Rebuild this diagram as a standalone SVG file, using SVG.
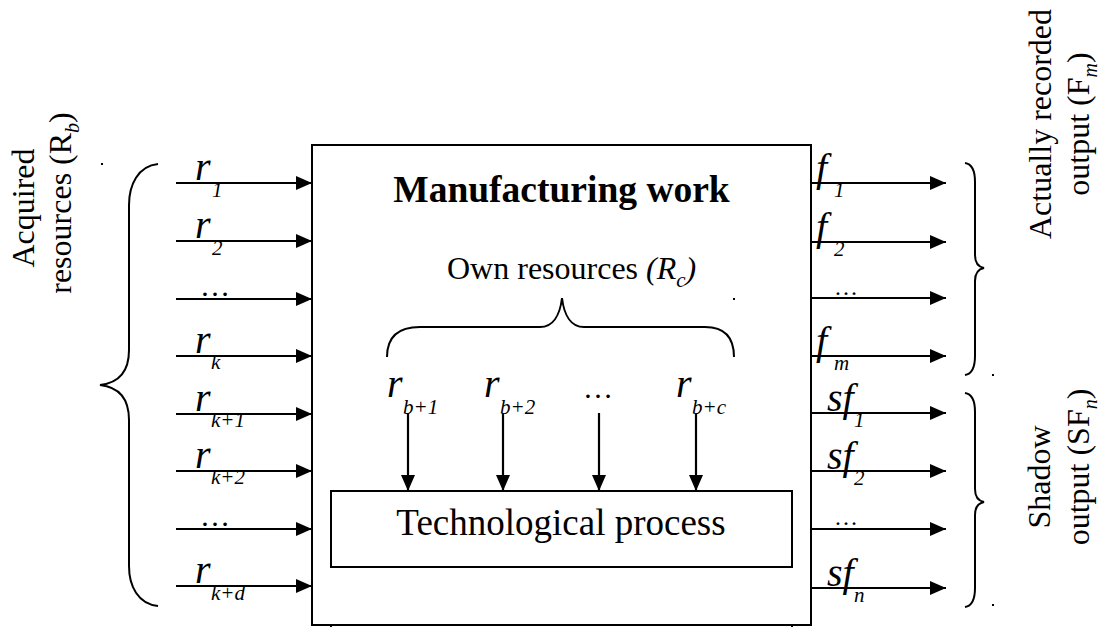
<svg xmlns="http://www.w3.org/2000/svg" width="1107" height="627" viewBox="0 0 1107 627">
<style>
text{font-family:"Liberation Serif","Times New Roman",serif;fill:#000}
.it{font-style:italic}
.v{font-size:40px;font-style:italic}
.s{font-size:21px;font-style:italic}
.lbl{font-size:32px}
.ln{stroke:#000;stroke-width:2;fill:none}
.br{stroke:#000;stroke-width:2;fill:none}
.ar{stroke:#000;stroke-width:2.2;fill:none;marker-end:url(#ah)}
</style>
<defs>
<marker id="ah" markerUnits="userSpaceOnUse" markerWidth="18" markerHeight="16" refX="16" refY="7" orient="auto">
<path d="M0,0 L16,7 L0,14 Z" fill="#000"/>
</marker>
</defs>
<rect width="1107" height="627" fill="#fff"/>

<g id="manufacturing-work">
<rect x="312" y="145" width="499" height="480" class="ln"/>
<line x1="331" y1="625" x2="331" y2="627" class="ln"/>
<line x1="792" y1="625" x2="792" y2="627" class="ln"/>
<text x="561.5" y="202" font-size="37.5" font-weight="bold" text-anchor="middle">Manufacturing work</text>
</g>

<g id="technological-process">
<rect x="331" y="491" width="461" height="76" class="ln"/>
<text x="561" y="535" font-size="37" text-anchor="middle">Technological process</text>
</g>

<g id="own-resources">
<text x="447" y="279" font-size="32">Own resources <tspan class="it">(R</tspan><tspan class="s" dy="8" font-size="20">c</tspan><tspan class="it" dy="-8">)</tspan></text>
<path class="br" d="M387,357 C387,340 395,327 420,327 L540,327 C553,327 560,315 562,298 C564,315 571,327 584,327 L705,327 C727,327 734,340 734,357"/>
<rect x="733" y="298" width="2" height="2" fill="#000"/>
<text x="387" y="397" class="v">r</text><text x="403" y="414" class="s">b+1</text>
<text x="484" y="397" class="v">r</text><text x="500" y="414" class="s">b+2</text>
<text x="583" y="398" font-size="30">…</text>
<text x="676" y="397" class="v">r</text><text x="692" y="414" class="s">b+c</text>
</g>

<g id="acquired-resources">
<text class="lbl" transform="translate(34,208) rotate(-90)" text-anchor="middle">Acquired</text>
<text class="lbl" transform="translate(71,203) rotate(-90)" text-anchor="middle">resources (R<tspan class="it" font-size="20" dy="8">b</tspan><tspan dy="-8">)</tspan></text>
<path class="br" d="M158,164 C138,166 129,185 129,205 L129,350 C129,372 118,383 100,385 C118,387 129,398 129,420 L129,566 C129,586 138,604 158,606"/>
<rect x="101" y="163" width="2" height="2" fill="#000"/>
<text x="195" y="180" class="v">r</text><text x="212" y="197" class="s">1</text>
<text x="195" y="238" class="v">r</text><text x="212" y="255" class="s">2</text>
<text x="200" y="296" font-size="30">…</text>
<text x="195" y="353" class="v">r</text><text x="211" y="369" class="s">k</text>
<text x="195" y="411" class="v">r</text><text x="211" y="427" class="s">k+1</text>
<text x="195" y="468" class="v">r</text><text x="211" y="484" class="s">k+2</text>
<text x="200" y="526" font-size="30">…</text>
<text x="195" y="583" class="v">r</text><text x="211" y="600" class="s">k+d</text>
</g>

<g id="recorded-output">
<text class="lbl" transform="translate(1051,124) rotate(-90)" text-anchor="middle">Actually recorded</text>
<text class="lbl" transform="translate(1089,124) rotate(-90)" text-anchor="middle">output (F<tspan class="it" font-size="20" dy="8">m</tspan><tspan dy="-8">)</tspan></text>
<path class="br" d="M965,163 C972,164 975,172 975,182 L975,255 C975,263 979,267 984,268 C979,269 975,273 975,281 L975,356 C975,366 972,374 965,375"/>
<rect x="992" y="374" width="2" height="2" fill="#000"/>
<text x="816" y="181" class="v">f</text><text x="834" y="197" class="s">1</text>
<text x="816" y="240" class="v">f</text><text x="834" y="256" class="s">2</text>
<text x="834" y="295" font-size="24">…</text>
<text x="816" y="354" class="v">f</text><text x="834" y="370" class="s">m</text>
</g>

<g id="shadow-output">
<text class="lbl" transform="translate(1050,477) rotate(-90)" text-anchor="middle">Shadow</text>
<text class="lbl" transform="translate(1089,467) rotate(-90)" text-anchor="middle">output (SF<tspan class="it" font-size="20" dy="8">n</tspan><tspan dy="-8">)</tspan></text>
<path class="br" d="M965,393 C972,394 975,402 975,412 L975,489 C975,497 979,501 984,502 C979,503 975,507 975,515 L975,588 C975,598 972,606 965,607"/>
<rect x="992" y="604" width="2" height="2" fill="#000"/>
<text x="827" y="411" class="v">sf</text><text x="854" y="427" class="s">1</text>
<text x="827" y="469" class="v">sf</text><text x="854" y="485" class="s">2</text>
<text x="834" y="525" font-size="24">…</text>
<text x="827" y="586" class="v">sf</text><text x="854" y="602" class="s">n</text>
</g>

<g id="connectors">
<line x1="176" y1="183" x2="312" y2="183" class="ar"/>
<line x1="176" y1="241" x2="312" y2="241" class="ar"/>
<line x1="176" y1="299" x2="312" y2="299" class="ar"/>
<line x1="176" y1="356" x2="312" y2="356" class="ar"/>
<line x1="176" y1="414" x2="312" y2="414" class="ar"/>
<line x1="176" y1="471" x2="312" y2="471" class="ar"/>
<line x1="176" y1="529" x2="312" y2="529" class="ar"/>
<line x1="176" y1="586" x2="312" y2="586" class="ar"/>
<line x1="811" y1="183" x2="946" y2="183" class="ar"/>
<line x1="811" y1="242" x2="946" y2="242" class="ar"/>
<line x1="811" y1="298" x2="946" y2="298" class="ar"/>
<line x1="811" y1="356" x2="946" y2="356" class="ar"/>
<line x1="811" y1="413" x2="946" y2="413" class="ar"/>
<line x1="811" y1="471" x2="946" y2="471" class="ar"/>
<line x1="811" y1="529" x2="946" y2="529" class="ar"/>
<line x1="811" y1="588" x2="946" y2="588" class="ar"/>
<line x1="408" y1="413" x2="408" y2="491" class="ar"/>
<line x1="503" y1="413" x2="503" y2="491" class="ar"/>
<line x1="599" y1="413" x2="599" y2="491" class="ar"/>
<line x1="696" y1="413" x2="696" y2="491" class="ar"/>
</g>
</svg>
